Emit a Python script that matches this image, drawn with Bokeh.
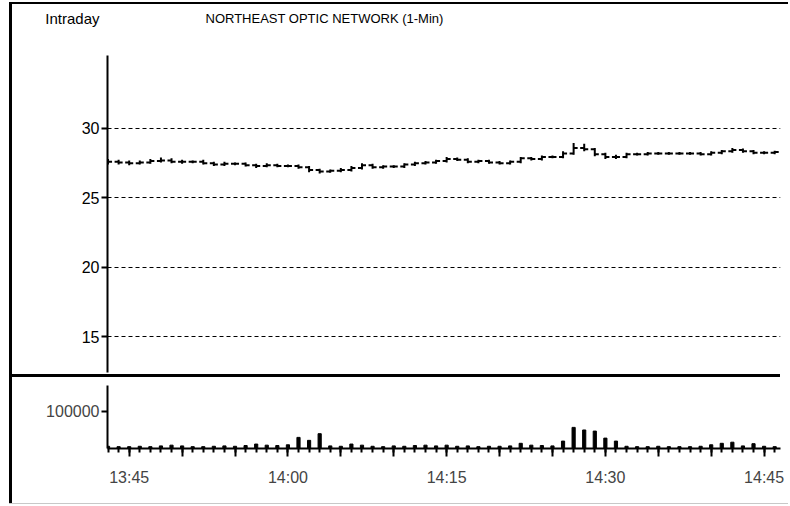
from bokeh.plotting import figure
from bokeh.models import FixedTicker, Label, Div, ColumnDataSource, Range1d, Spacer
from bokeh.layouts import column, row
from bokeh.transform import dodge
from bokeh.embed import file_html
from bokeh.resources import INLINE

# minutes relative to 13:45 (one bar per minute, 13:43 .. 14:46)
minutes = list(range(-2, 62))

opens = [27.55,27.6,27.55,27.5,27.55,27.65,27.7,27.6,27.6,27.6,
         27.5,27.4,27.45,27.45,27.35,27.3,27.35,27.3,27.3,27.2,
         27.0,26.9,26.95,27.0,27.15,27.35,27.2,27.25,27.25,27.4,
         27.5,27.55,27.65,27.8,27.75,27.6,27.65,27.55,27.5,27.6,
         27.85,27.8,27.95,27.95,28.2,28.6,28.5,28.15,27.95,27.95,
         28.15,28.15,28.2,28.2,28.2,28.2,28.2,28.15,28.25,28.35,
         28.45,28.35,28.25,28.25]
highs = [27.8,27.75,27.7,27.7,27.8,27.9,27.85,27.75,27.7,27.75,
         27.6,27.6,27.55,27.55,27.45,27.5,27.45,27.4,27.4,27.3,
         27.1,27.05,27.15,27.3,27.5,27.45,27.35,27.35,27.5,27.6,
         27.65,27.75,27.95,27.9,27.85,27.75,27.75,27.65,27.7,27.95,
         27.95,28.05,28.05,28.35,28.95,28.9,28.6,28.25,28.1,28.25,
         28.25,28.3,28.3,28.3,28.3,28.3,28.3,28.35,28.45,28.6,
         28.55,28.45,28.35,28.4]
lows = [27.4,27.4,27.35,27.4,27.45,27.55,27.5,27.45,27.5,27.4,
        27.3,27.3,27.35,27.25,27.15,27.2,27.2,27.2,27.1,26.85,
        26.75,26.8,26.85,26.9,27.05,27.1,27.1,27.15,27.15,27.3,
        27.4,27.45,27.55,27.65,27.5,27.5,27.45,27.4,27.4,27.5,
        27.7,27.7,27.85,27.85,28.1,28.35,28.0,27.8,27.8,27.85,
        28.05,28.05,28.1,28.1,28.1,28.1,28.05,28.05,28.15,28.25,
        28.25,28.15,28.15,28.15]
closes = [27.6,27.55,27.5,27.55,27.65,27.7,27.6,27.6,27.6,27.5,
          27.4,27.45,27.45,27.35,27.3,27.35,27.3,27.3,27.2,27.0,
          26.9,26.95,27.0,27.15,27.35,27.2,27.25,27.25,27.4,27.5,
          27.55,27.65,27.8,27.75,27.6,27.65,27.55,27.5,27.6,27.85,
          27.8,27.95,27.95,28.2,28.6,28.5,28.15,27.95,27.95,28.15,
          28.15,28.2,28.2,28.2,28.2,28.2,28.15,28.25,28.35,28.45,
          28.35,28.25,28.25,28.3]
volumes = [6000,5000,5000,6000,5000,7000,9000,7000,5000,5000,
           6000,7000,6000,8000,12000,9000,8000,10000,30000,22000,
           40000,7000,6000,12000,9000,6000,5000,7000,6000,8000,
           9000,7000,9000,6000,7000,5000,6000,6000,7000,14000,
           9000,8000,7000,20000,57000,50000,47000,28000,20000,6000,
           5000,5000,6000,5000,5000,5000,6000,10000,14000,17000,
           7000,13000,6000,5000]

price_ticks = [15, 20, 25, 30]
volume_ticks = [100000]
volume_tick_labels = ["100000"]
time_ticks = [0, 15, 30, 45, 60]
time_labels = ["13:45", "14:00", "14:15", "14:30", "14:45"]
time_major = list(range(0, 61, 5))

FONT = "Liberation Sans"
W = 776

src = ColumnDataSource(dict(t=minutes, o=opens, h=highs, l=lows, c=closes, v=volumes))
xr = Range1d(-2.05, 61.55)

# ---------------- title strip ----------------
p0 = figure(width=W, height=41, x_range=Range1d(107, 780), y_range=Range1d(41, 0),
            output_backend="svg", toolbar_location=None, x_axis_location=None,
            min_border_left=95, min_border_right=8, min_border_top=0, min_border_bottom=0)
p0.outline_line_color = None
p0.grid.visible = False
p0.border_fill_color = "white"
ty = p0.yaxis[0]
ty.ticker = FixedTicker(ticks=[14])
ty.major_label_overrides = {14: "Intraday"}
ty.axis_line_color = None
ty.major_tick_line_color = None
ty.minor_tick_line_color = None
ty.major_tick_out = 0
ty.major_tick_in = 0
ty.major_label_standoff = 8
ty.major_label_text_font = FONT
ty.major_label_text_font_size = "15px"
ty.major_label_text_color = "black"
p0.add_layout(Label(x=205, y=14, text="NORTHEAST OPTIC NETWORK (1-Min)",
                    text_baseline="middle", text_font=FONT, text_font_size="13px",
                    text_color="black"))

# ---------------- price panel ----------------
p1 = figure(width=W, height=329, x_range=xr, y_range=Range1d(12.41, 35.26),
            output_backend="svg", toolbar_location=None, x_axis_location=None,
            min_border_left=95, min_border_right=8, min_border_top=10, min_border_bottom=2)
p1.outline_line_color = None
p1.background_fill_color = "white"
p1.border_fill_color = "white"
p1.xgrid.visible = False
p1.yaxis.ticker = FixedTicker(ticks=price_ticks)
p1.ygrid.ticker = FixedTicker(ticks=price_ticks)
p1.ygrid.grid_line_color = "black"
p1.ygrid.grid_line_dash = "4 3"
p1.ygrid.grid_line_width = 1
ax = p1.yaxis[0]
ax.axis_line_width = 2
ax.axis_line_color = "black"
ax.major_tick_out = 6
ax.major_tick_in = 0
ax.major_tick_line_width = 2
ax.minor_tick_out = 0
ax.minor_tick_in = 0
ax.major_label_standoff = 2
ax.major_label_text_font = FONT
ax.major_label_text_font_size = "16px"
ax.major_label_text_color = "black"

p1.segment(x0="t", y0="l", x1="t", y1="h", source=src, line_color="black", line_width=2)
p1.segment(x0=dodge("t", -0.38, range=xr), y0="o", x1="t", y1="o", source=src,
           line_color="black", line_width=2)
p1.segment(x0="t", y0="c", x1=dodge("t", 0.38, range=xr), y1="c", source=src,
           line_color="black", line_width=2)

# ---------------- volume panel ----------------
p2 = figure(width=W, height=126, x_range=xr, y_range=Range1d(0, 170000),
            output_backend="svg", toolbar_location=None,
            min_border_left=95, min_border_right=8, min_border_top=8, min_border_bottom=55)
p2.outline_line_color = None
p2.background_fill_color = "white"
p2.border_fill_color = "white"
p2.grid.visible = False
vy = p2.yaxis[0]
vy.ticker = FixedTicker(ticks=volume_ticks)
vy.major_label_overrides = dict(zip(volume_ticks, volume_tick_labels))
vy.axis_line_width = 2
vy.major_tick_out = 6
vy.major_tick_in = 0
vy.major_tick_line_width = 2
vy.minor_tick_out = 0
vy.minor_tick_in = 0
vy.major_label_standoff = 2
vy.major_label_text_font = FONT
vy.major_label_text_font_size = "16px"

vx = p2.xaxis[0]
vx.ticker = FixedTicker(ticks=time_major, minor_ticks=minutes)
overrides = {m: "" for m in time_major}
overrides.update(dict(zip(time_ticks, time_labels)))
vx.major_label_overrides = overrides
vx.axis_line_width = 2
vx.major_tick_out = 8
vx.major_tick_in = 0
vx.major_tick_line_width = 2
vx.minor_tick_out = 4
vx.minor_tick_in = 0
vx.minor_tick_line_width = 2
vx.major_label_standoff = 12
vx.major_label_text_font = FONT
vx.major_label_text_font_size = "16px"

p2.vbar(x="t", top="v", bottom=0, width=0.3, source=src, fill_color="black", line_color="black")

# ---------------- frame lines ----------------
top_line = Div(width=779, height=2, margin=(0, 0, 0, 0), styles={"background-color": "black"})
left_line = Div(width=3, height=499, margin=(0, 0, 0, 0), styles={"background-color": "black"})
sep_line = Div(width=768, height=3, margin=(0, 0, 0, 0), styles={"background-color": "black"})
bottom_line = Div(width=779, height=1, margin=(0, 0, 0, 0), styles={"background-color": "#c8c8c8"})

body = column(p0, p1, sep_line, p2, spacing=0)
layout = column(
    Spacer(width=10, height=2, margin=(0, 0, 0, 0)),
    row(Spacer(width=9, height=2, margin=(0, 0, 0, 0)), top_line, spacing=0),
    row(Spacer(width=9, height=499, margin=(0, 0, 0, 0)), left_line, body, spacing=0),
    row(Spacer(width=9, height=1, margin=(0, 0, 0, 0)), bottom_line, spacing=0),
    spacing=0,
)

open("out.html", "w").write(file_html(layout, INLINE))
